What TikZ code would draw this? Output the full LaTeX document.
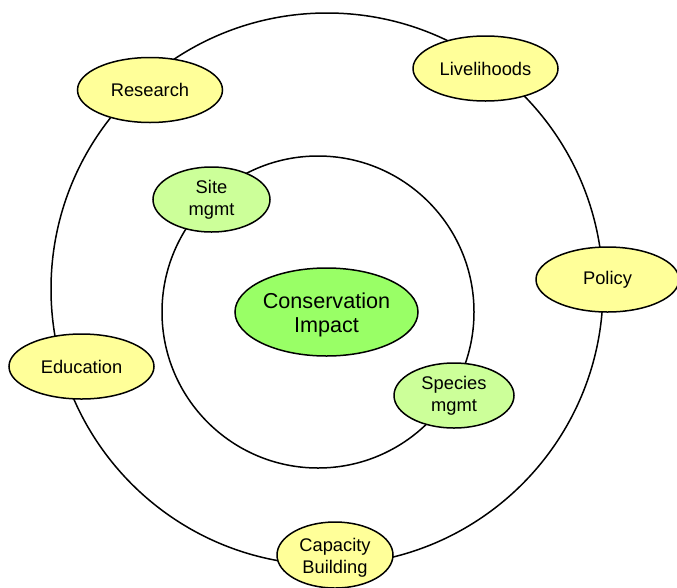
\documentclass[tikz,border=0pt]{standalone}
\usepackage{fontspec}
\setmainfont{Liberation Sans}
\usetikzlibrary{shapes.geometric}

\definecolor{ringyellow}{HTML}{FFFF99}
\definecolor{coregreen}{HTML}{CCFF99}
\definecolor{impactgreen}{HTML}{99FF66}

\begin{document}
\begin{tikzpicture}[x=1pt, y=-1pt, line width=1.5pt,
    blob/.style={ellipse, draw, inner sep=0pt, align=center,
        minimum width=145pt, minimum height=65pt,
        font=\fontsize{18.3}{22}\selectfont},
    outerblob/.style={blob, fill=ringyellow},
    innerblob/.style={blob, fill=coregreen, minimum width=118pt},
    impactblob/.style={blob, fill=impactgreen, minimum width=183pt,
        minimum height=88pt, font=\fontsize{21.6}{24}\selectfont}]
    \useasboundingbox (0,0) rectangle (677,587);

    % Rings
    \draw (327,289) circle (276);
    \draw (318,312) circle (156);

    % Outer ring
    \node[outerblob] (research) at (150,90) {Research};
    \node[outerblob] (livelihoods) at (485.5,68.5) {Livelihoods};
    \node[outerblob, minimum width=143pt] (policy) at (607.5,279.5) {Policy};
    \node[outerblob] (education) at (81.5,366.5) {Education};
    \node[outerblob, minimum width=116pt, minimum height=66pt] (capacity) at (335,555) {\rule{0pt}{18pt}Capacity\\Building};

    % Inner ring
    \node[innerblob, minimum width=117pt] (site) at (211.5,199.5) {Site\\mgmt};
    \node[innerblob, minimum width=120pt] (species) at (454,395.5) {Species\\mgmt};

    % Centre
    \node[impactblob] (impact) at (326.5,312) {\rule{0pt}{22pt}Conservation\\Impact};
\end{tikzpicture}
\end{document}
